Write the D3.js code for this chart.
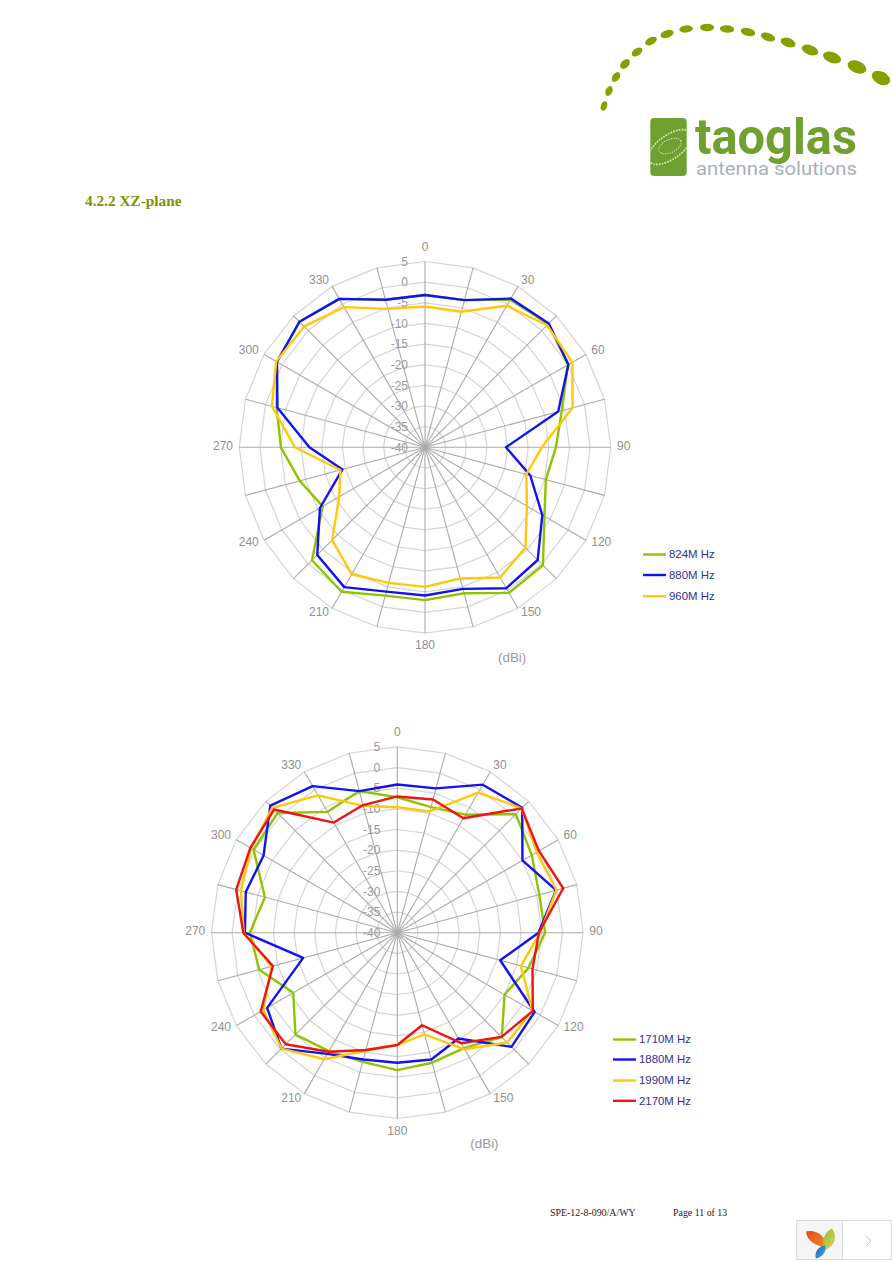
<!DOCTYPE html>
<html><head><meta charset="utf-8">
<script src="https://cdn.jsdelivr.net/npm/d3@7/dist/d3.min.js"></script>
<style>html,body{margin:0;padding:0;background:#fff}svg{display:block}</style>
</head><body><div id="c"></div>
<script>
const angles = d3.range(0,360,15);
const angleLabels = [0,30,60,90,120,150,180,210,240,270,300,330];
const dbTicks = [5,0,-5,-10,-15,-20,-25,-30,-35,-40];

const s824 = [-3.1,-3.1,1.3,2.2,0,-5.7,-8.3,-9.7,-6.6,0.4,0.7,-3.4,-3,-2.8,0.4,-1.3,-11.4,-8.6,-5.1,-2.8,1.4,3,1.5,-3];
const s880 = [-3.1,-3.1,1.6,2.4,0.1,-6.6,-20.4,-13.6,-7.2,-1.4,-0.6,-4.5,-4.1,-3.8,-0.9,-3.1,-10.6,-19.3,-12,-3,1.4,3,1.5,-3];
const s960 = [-5.9,-6,-0.4,1.8,1.2,-3,-11.7,-14.6,-11.5,-5.6,-3.6,-7.1,-6.2,-6,-4.5,-8.2,-16,-18.8,-8.5,-1.6,1.6,1.4,-0.8,-5.3];

const s1710 = [-7.2,-8.5,-7,0.6,-2.4,-4.4,-4.2,-7.1,-10,-4.2,-7.7,-7.4,-6.7,-7.6,-6.9,-5.1,-10.9,-5.4,-4.3,-6.8,0.2,1,-6.2,-4.5];
const s1880 = [-4.1,-3.8,1.4,2.8,-5,-0.2,-5.8,-14.2,-1.6,-0.9,-10.4,-8.2,-8.5,-8.2,-6.1,-0.3,-3.6,-16.4,-3.1,-2,-2.6,3.5,1,-4.5];
const s1990 = [-9.6,-9.6,-0.8,2.6,-1,-0.1,-5.4,-9,-2.2,-2.4,-7.4,-14.5,-12.8,-10.4,-4.6,-0.3,-2.5,-8.5,-2.8,-0.8,0.9,2.8,-1.6,-8.2];
const s2170 = [-7,-6.6,-8,2.6,-0.4,1.6,-5.7,-6.1,-2.1,-4.3,-9.1,-16.8,-12.8,-10.6,-6.7,-1.8,-1.8,-8.8,-2.7,0.4,1.1,2.2,-9.2,-8];

const GREEN="#8fc400", BLUE="#1212f2", YEL="#ffc80a", RED="#f21212";
const chartA = {cx:425,cy:447.3,lx:643,ly:[554.5,575,596.3],
  names:["824M Hz","880M Hz","960M Hz"],series:[s824,s880,s960],colors:[GREEN,BLUE,YEL]};
const chartB = {cx:397.3,cy:932.7,lx:613,ly:[1039.5,1059.5,1080.5,1100.8],
  names:["1710M Hz","1880M Hz","1990M Hz","2170M Hz"],series:[s1710,s1880,s1990,s2170],colors:[GREEN,BLUE,YEL,RED]};

const svg=d3.select("#c").append("svg").attr("width",892).attr("height",1262);
const sans="'Liberation Sans',Arial,sans-serif", serif="'Liberation Serif','Times New Roman',serif";

const defs=svg.append("defs");
const petals=[["po","#f09020","#e04a18"],["pg","#d8d060","#98c030"],["pb","#58a8e0","#1060b8"]];
petals.forEach(p=>{
  const lg=defs.append("linearGradient").attr("id",p[0]).attr("x1",1).attr("y1",1).attr("x2",0).attr("y2",0);
  lg.append("stop").attr("offset",0).attr("stop-color",p[1]);
  lg.append("stop").attr("offset",1).attr("stop-color",p[2]);
});

const r=d3.scaleLinear().domain([-40,5]).range([0,185.8]);
const a=d3.scaleLinear().domain([0,360]).range([0,2*Math.PI]);
const radial=d3.lineRadial().angle((d,i)=>a(angles[i])).radius(d=>r(d)).curve(d3.curveLinearClosed);
const labelR=192;

function drawChart(c){
  const wrap=svg.append("g");
  const g=wrap.append("g").attr("transform",`translate(${c.cx},${c.cy})`);
  g.selectAll(".ring").data(dbTicks.filter(d=>d>-40)).join("path")
    .attr("d",t=>radial(angles.map(()=>t)))
    .attr("fill","none").attr("stroke","#d4d4d4").attr("stroke-width",1.2);
  g.selectAll(".spoke").data(angles).join("line")
    .attr("x2",d=>r(5)*Math.sin(a(d))).attr("y2",d=>-r(5)*Math.cos(a(d)))
    .attr("stroke","#aaaaaa").attr("stroke-width",1.1);
  g.selectAll(".db").data(dbTicks).join("text")
    .attr("x",-17).attr("y",d=>-r(d)).attr("dy","0.35em").attr("text-anchor","end")
    .attr("font-family",sans).attr("font-size",12).attr("fill","#999").text(d=>d);
  g.selectAll(".ang").data(angleLabels).join("text")
    .attr("x",d=>labelR*Math.sin(a(d)))
    .attr("y",d=>-labelR*Math.cos(a(d))+(d===0?-9:d===180?6:-1.5)).attr("dy","0.35em")
    .attr("text-anchor",d=>d%180===0?"middle":d<180?"start":"end")
    .attr("font-family",sans).attr("font-size",12).attr("fill","#8f8f8f").text(d=>d);
  g.append("text").attr("x",73).attr("y",210.5).attr("dy","0.35em")
    .attr("font-family",sans).attr("font-size",13.4).attr("fill","#999").text("(dBi)");
  c.series.forEach((s,i)=>{
    g.append("path").attr("d",radial(s)).attr("fill","none")
      .attr("stroke",c.colors[i]).attr("stroke-width",2.4).attr("stroke-linejoin","round");
  });
  c.names.forEach((n,i)=>{
    wrap.append("line").attr("x1",c.lx).attr("x2",c.lx+23).attr("y1",c.ly[i]).attr("y2",c.ly[i])
      .attr("stroke",c.colors[i]).attr("stroke-width",2.4);
    wrap.append("text").attr("x",c.lx+26).attr("y",c.ly[i]).attr("dy","0.35em")
      .attr("font-family",sans).attr("font-size",11.4).attr("fill","#30309a").text(n);
  });
}
drawChart(chartA); drawChart(chartB);

svg.append("text").attr("x",85).attr("y",206).attr("font-family",serif).attr("font-weight","bold")
  .attr("font-size",15.3).attr("fill","#7a9400").text("4.2.2 XZ-plane");
svg.append("text").attr("x",550).attr("y",1216).attr("font-family",serif).attr("font-size",9.9).attr("fill","#222").text("SPE-12-8-090/A/WY");
svg.append("text").attr("x",673).attr("y",1216).attr("font-family",serif).attr("font-size",9.9).attr("fill","#222").text("Page 11 of 13");

// logo
const logo=svg.append("g");
const logoDots=[[604,106,3,4.8,20],[609,91,3.4,5.2,25],[616,77,3.6,5.4,35],[625,64,3.8,5.8,45],[637,52,3.6,6,55],[651,41,3.6,6.4,62],[667,34,3.8,6.8,72],[686,29,3.6,6.8,85],[707,27.5,3.8,7,90],[727,29,3.8,7.2,95],[748,32,4,7.4,105],[768,37,4,7.4,110],[788,42.5,4.4,7.8,110],[810,50,4.8,8.6,110],[832,57.5,5.4,9.4,110],[857,67,6,9.8,112],[881,78,6.4,9.8,118]];
logo.selectAll(".dot").data(logoDots).join("ellipse")
  .attr("rx",d=>d[2]).attr("ry",d=>d[3]).attr("fill","#86a000")
  .attr("transform",d=>`translate(${d[0]},${d[1]}) rotate(${d[4]})`);
logo.append("rect").attr("x",650.3).attr("y",118).attr("width",36.4).attr("height",58).attr("rx",4).attr("fill","#6fa030");
const clip=defs.append("clipPath").attr("id","lc");
clip.append("rect").attr("x",650.3).attr("y",118).attr("width",36.4).attr("height",58).attr("rx",4);
const inner=logo.append("g").attr("clip-path","url(#lc)");
inner.append("ellipse").attr("rx",25).attr("ry",12).attr("fill","none").attr("stroke","#dfe9c8").attr("stroke-width",1.6).attr("stroke-dasharray","1.6 1.2")
  .attr("transform","translate(670,147) rotate(-35)");
inner.append("ellipse").attr("rx",12).attr("ry",6.5).attr("fill","none").attr("stroke","#dfe9c8").attr("stroke-width",1).attr("stroke-dasharray","1.2 1.2")
  .attr("transform","translate(670,146) rotate(-25)");
logo.append("text").attr("x",695).attr("y",154).attr("font-family","Roboto,sans-serif").attr("font-weight",700)
  .attr("font-size",50).attr("fill","#6fa030").attr("textLength",162).attr("lengthAdjust","spacingAndGlyphs").text("taoglas");
logo.append("text").attr("x",696).attr("y",175).attr("font-family","Roboto,sans-serif")
  .attr("font-size",18).attr("fill","#a9b1b8").attr("textLength",161).attr("lengthAdjust","spacingAndGlyphs").text("antenna solutions");

// widget bottom right
svg.append("rect").attr("x",796.5).attr("y",1220.5).attr("width",46).attr("height",39).attr("fill","#f5f5f5").attr("stroke","#dcdcdc");
svg.append("rect").attr("x",842.5).attr("y",1220.5).attr("width",49).attr("height",39).attr("fill","#fff").attr("stroke","#dcdcdc");
svg.append("path").attr("d","M806,1231.5 C816,1229 826,1236 827,1247 C816,1247 807,1241 806,1231.5Z").attr("fill","url(#po)");
svg.append("path").attr("d","M832,1228.5 C838,1236 835,1246 825,1250 C821,1241 824,1232 832,1228.5Z").attr("fill","url(#pg)");
svg.append("path").attr("d","M825,1245 C827,1251 823,1257 816,1258.5 C814,1252 818,1247 825,1245Z").attr("fill","url(#pb)");
svg.append("path").attr("d","M866,1236 L871,1241 L866,1246").attr("fill","none").attr("stroke","#c4c4c4").attr("stroke-width",1);
</script></body></html>
